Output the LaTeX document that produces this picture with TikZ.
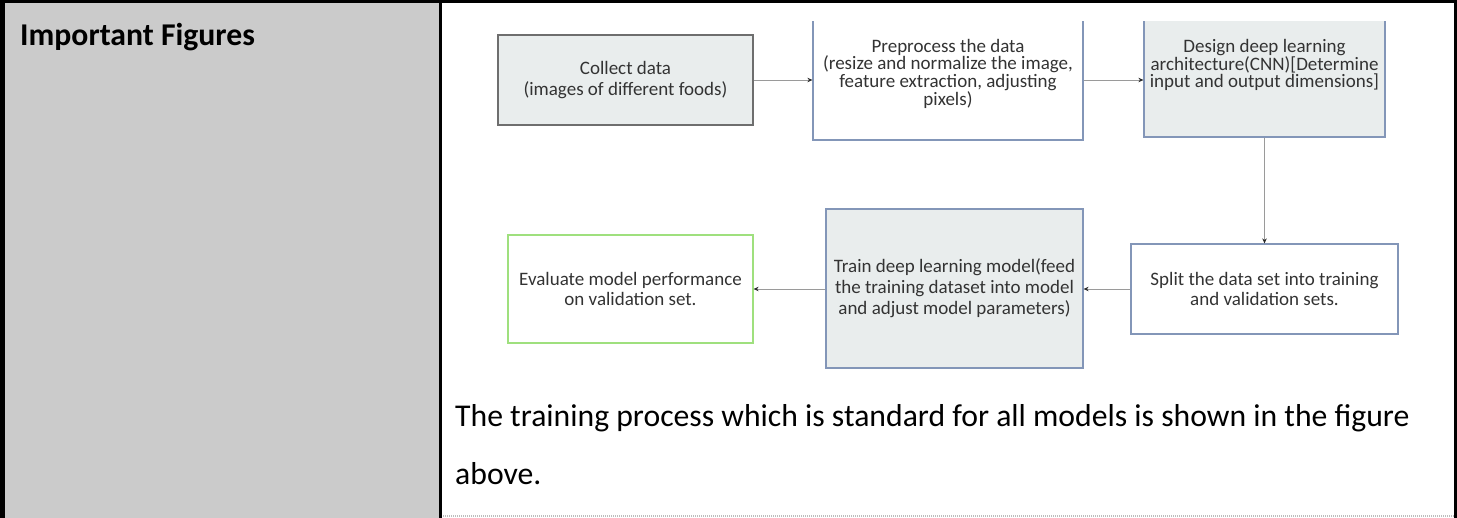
\documentclass[tikz,border=0pt]{standalone}
\usepackage{fontspec}
\setmainfont{Carlito}
\usetikzlibrary{arrows.meta}

\definecolor{cellgray}{HTML}{CBCBCB}
\definecolor{boxfill}{HTML}{E9EDED}
\definecolor{greyedge}{HTML}{6E6E6E}
\definecolor{blueedge}{HTML}{8396B8}
\definecolor{greenedge}{HTML}{9FE07E}
\definecolor{figtext}{HTML}{333333}
\definecolor{linkgray}{HTML}{9A9A9A}
\definecolor{tipdark}{HTML}{2A2A2A}
\definecolor{rulegray}{HTML}{BDBDBD}

\tikzset{
  stepbox/.style={inner sep=0pt, align=center, text=figtext,
    font=\fontsize{19}{20.5}\selectfont, line width=1.2pt},
  graybox/.style={stepbox, fill=boxfill},
  flow/.style={draw=linkgray, line width=0.9pt,
    -{Stealth[length=5pt,width=4.5pt,color=tipdark]}},
  bigtext/.style={anchor=base west, inner sep=0pt,
    font=\fontsize{31.7}{38}\selectfont}
}

\begin{document}
\begin{tikzpicture}[x=1pt,y=-1pt]
\useasboundingbox (0,0) rectangle (1457,518);

% table cells and rules
\fill[cellgray] (0,0) rectangle (440,518);
\fill[black] (0,0) rectangle (1457,3);
\fill[black] (0,0) rectangle (5,518);
\fill[black] (439,0) rectangle (442,518);
\fill[black] (1454,0) rectangle (1457,518);
\draw[rulegray, line width=2pt, dash pattern=on 1pt off 1pt] (443,516) -- (1454,516);

\node[bigtext, font=\bfseries\fontsize{31.7}{38}\selectfont] (hdr) at (20,46) {Important Figures};

% training flow chart
\begin{scope}
\clip (442,22) rectangle (1454,385);
\node[graybox, draw=greyedge, minimum width=255pt, minimum height=90pt]
  (collect) at (625.5,80) {Collect data\\(images of different foods)};
\node[stepbox, draw=blueedge, fill=white, minimum width=270pt, minimum height=133pt,
  font=\fontsize{19}{17.7}\selectfont]
  (prep) at (948,73.5) {Preprocess the data\\(resize and normalize the image,\\feature extraction, adjusting\\pixels)};
\node[graybox, draw=blueedge, minimum width=241pt, minimum height=144pt,
  font=\fontsize{19}{17.5}\selectfont]
  (design) at (1264.5,65) {Design deep learning\\architecture(CNN)[Determine\\input and output dimensions]};
\node[stepbox, draw=blueedge, fill=white, minimum width=267pt, minimum height=90pt]
  (split) at (1264.5,289) {Split the data set into training\\and validation sets.};
\node[graybox, draw=blueedge, minimum width=257pt, minimum height=159pt,
  font=\fontsize{19}{21}\selectfont]
  (train) at (954.5,288.5) {Train deep learning model(feed\\the training dataset into model\\and adjust model parameters)};
\node[stepbox, draw=greenedge, fill=white, minimum width=245pt, minimum height=108pt]
  (eval) at (630.5,289) {Evaluate model performance\\on validation set.};
\end{scope}

\draw[flow] (collect.east) -- (collect.east -| prep.west);
\draw[flow] (collect.east -| prep.east) -- (collect.east -| design.west);
\draw[flow] (design.south) -- (split.north);
\draw[flow] (split.west) -- (split.west -| train.east);
\draw[flow] (split.west -| train.west) -- (eval.east);

% caption below the chart
\node[bigtext] (cap1) at (455,427) {The training process which is standard for all models is shown in the figure};
\node[bigtext] (cap2) at (455,485) {above.};
\end{tikzpicture}
\end{document}
